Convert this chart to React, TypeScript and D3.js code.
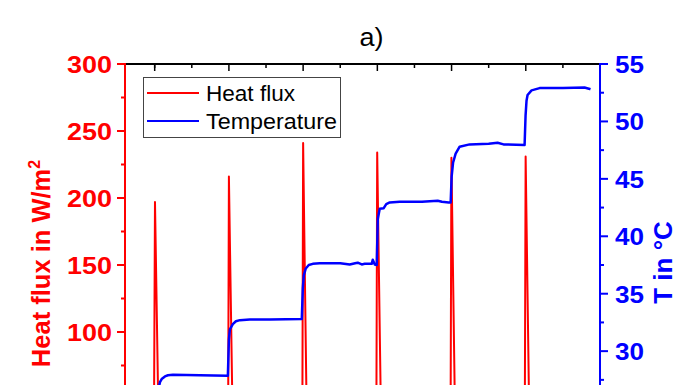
import React from "react";
import * as d3 from "d3";

// ---- data (x in run units; spikes at 1..6) ----
const heatTime = [0.6, 0.988, 1.004, 1.044, 1.08, 1.2, 1.988, 2.0, 2.043, 2.08, 2.2, 2.988, 3.0, 3.043, 3.08, 3.2, 3.985, 3.998, 4.043, 4.08, 4.2, 4.985, 4.998, 5.041, 5.08, 5.2, 5.985, 5.998, 6.041, 6.08, 6.2, 6.88];
const heatFlux = [5, 5, 197, 60, -5, 5, 5, 216, 60, -5, 5, 5, 241, 60, -5, 5, 5, 234, 60, -5, 5, 5, 230, 60, -5, 5, 5, 231, 60, -5, 5, 5];

const tempTime = [0.6, 1.02, 1.031, 1.044, 1.071, 1.098, 1.138, 1.179, 1.246, 1.609, 1.986,
  2.0, 2.013, 2.053, 2.094, 2.148, 2.282, 2.552, 2.982,
  2.996, 3.009, 3.036, 3.076, 3.13, 3.224, 3.5, 3.628, 3.7, 3.736, 3.79, 3.83, 3.924, 3.938, 3.965, 3.992,
  4.006, 4.032, 4.086, 4.12, 4.167, 4.301, 4.6, 4.813, 4.87, 4.961, 4.988,
  5.001, 5.02, 5.055, 5.109, 5.243, 5.5, 5.62, 5.7, 5.984,
  5.997, 6.01, 6.024, 6.078, 6.186, 6.5, 6.791, 6.85, 6.872];
const temperature = [22.5, 22.5, 24.5, 26.5, 27.3, 27.6, 27.8, 27.9, 27.95, 27.9, 27.85,
  31.0, 31.9, 32.35, 32.6, 32.7, 32.75, 32.75, 32.8,
  35.5, 36.6, 37.2, 37.5, 37.6, 37.65, 37.65, 37.55, 37.65, 37.7, 37.55, 37.6, 37.6, 37.95, 37.55, 37.5,
  41.5, 42.4, 42.45, 42.8, 42.95, 43.0, 43.0, 43.1, 43.0, 42.95, 42.95,
  45.2, 46.4, 47.2, 47.8, 48.0, 48.05, 48.15, 48.0, 47.95,
  50.5, 51.8, 52.3, 52.7, 52.9, 52.9, 52.95, 52.85, 52.8];

const leftTicks = [0, 50, 100, 150, 200, 250, 300];
const rightTicks = [20, 25, 30, 35, 40, 45, 50, 55];
const topTicks = [1, 2, 3, 4, 5, 6, 7];
const seriesNames = ["Heat flux", "Temperature"];
const titleText = "a)";

const RED = "#ff0000";
const BLUE = "#0000ff";
const FONT = "'Liberation Sans', Arial, Helvetica, sans-serif";

export default function App() {
  const W = 696, H = 385;
  const x0 = 125, x1 = 600, yTop = 64, yBot = 466;
  const x = d3.scaleLinear().domain([0.6, 7.0]).range([x0, x1]);
  const yL = d3.scaleLinear().domain([0, 300]).range([yBot, yTop]);
  const yR = d3.scaleLinear().domain([20, 55]).range([yBot, yTop]);

  const heatLine = d3.line<number>().x((_, i) => x(heatTime[i])).y((d) => yL(d))(heatFlux) || "";
  const tempLine = d3.line<number>().x((_, i) => x(tempTime[i])).y((d) => yR(d))(temperature) || "";

  const leftMinor = leftTicks.slice(0, -1).map((v) => v + 25);
  const rightMinor = rightTicks.slice(0, -1).map((v) => v + 2.5);
  const topMinor = [0.5, ...topTicks.slice(0, -1)].map((v) => v + 0.5).filter((v) => v > 0.6 && v < 7);
  const visible = (y: number) => y < H - 8;

  return (
    <svg width={W} height={H} style={{ position: "absolute", left: 0, top: 0, background: "#fff" }} fontFamily={FONT}>
      <defs>
        <clipPath id="plot">
          <rect x={x0} y={yTop} width={x1 - x0} height={yBot - yTop} />
        </clipPath>
      </defs>
      <rect width={W} height={H} fill="#fff" />
      <text x={371.5} y={46} textAnchor="middle" fontSize={26} textLength={24} lengthAdjust="spacingAndGlyphs" fill="#000">{titleText}</text>

      {/* data */}
      <g clipPath="url(#plot)">
        <path d={heatLine} fill="none" stroke={RED} strokeWidth={2} strokeLinejoin="round" />
        <path d={tempLine} fill="none" stroke={BLUE} strokeWidth={2.5} strokeLinejoin="round" />
      </g>

      {/* top axis */}
      <line x1={x0} x2={x1} y1={yTop} y2={yTop} stroke="#000" strokeWidth={2} />
      {topTicks.filter((t) => t < 7).map((t) => (
        <line key={"tt" + t} x1={x(t)} x2={x(t)} y1={yTop} y2={yTop + 7} stroke="#000" strokeWidth={1.5} />
      ))}
      {topMinor.map((t) => (
        <line key={"tm" + t} x1={x(t)} x2={x(t)} y1={yTop} y2={yTop + 4} stroke="#000" strokeWidth={1.5} />
      ))}

      {/* left axis */}
      <line x1={x0} x2={x0} y1={yTop - 1} y2={yBot} stroke={RED} strokeWidth={2} />
      {leftTicks.map((t) => (
        <g key={"l" + t}>
          <line x1={x0 - 8} x2={x0} y1={yL(t)} y2={yL(t)} stroke={RED} strokeWidth={2} />
          {visible(yL(t)) && (
            <text x={112} y={yL(t)} dy="0.36em" textAnchor="end" fontSize={24.5} textLength={t >= 100 ? 45 : 30} lengthAdjust="spacingAndGlyphs" fontWeight="bold" fill={RED}>{t}</text>
          )}
        </g>
      ))}
      {leftMinor.map((t) => (
        <line key={"lm" + t} x1={x0 - 4} x2={x0} y1={yL(t)} y2={yL(t)} stroke={RED} strokeWidth={2} />
      ))}
      <text transform={`translate(50,${(372 + 155) / 2}) rotate(-90)`} textAnchor="middle" fontSize={25.5} fontWeight="bold" fill={RED}>
        Heat flux in W/m<tspan dy="-10" fontSize={16}>2</tspan>
      </text>

      {/* right axis */}
      <line x1={x1} x2={x1} y1={yTop - 1} y2={yBot} stroke={BLUE} strokeWidth={2} />
      {rightTicks.map((t) => (
        <g key={"r" + t}>
          <line x1={x1} x2={x1 + 8} y1={yR(t)} y2={yR(t)} stroke={BLUE} strokeWidth={2} />
          {visible(yR(t)) && (
            <text x={615} y={yR(t)} dy="0.36em" textAnchor="start" fontSize={24.5} textLength={29} lengthAdjust="spacingAndGlyphs" fontWeight="bold" fill={BLUE}>{t}</text>
          )}
        </g>
      ))}
      {rightMinor.map((t) => (
        <line key={"rm" + t} x1={x1} x2={x1 + 4} y1={yR(t)} y2={yR(t)} stroke={BLUE} strokeWidth={2} />
      ))}
      <text transform={`translate(672,${(302 + 223) / 2}) rotate(-90)`} textAnchor="middle" fontSize={26} fontWeight="bold" fill={BLUE}>
        T in °C
      </text>

      {/* legend */}
      <rect x={143.5} y={77.5} width={197} height={60} fill="#fff" stroke="#444" strokeWidth={1} />
      <line x1={147} x2={199} y1={93} y2={93} stroke={RED} strokeWidth={2} />
      <text x={206} y={93} dy="0.36em" fontSize={21.5} textLength={89} lengthAdjust="spacingAndGlyphs" fill="#000">{seriesNames[0]}</text>
      <line x1={147} x2={199} y1={121} y2={121} stroke={BLUE} strokeWidth={2} />
      <text x={206} y={121} dy="0.36em" fontSize={21.5} textLength={131} lengthAdjust="spacingAndGlyphs" fill="#000">{seriesNames[1]}</text>
    </svg>
  );
}
